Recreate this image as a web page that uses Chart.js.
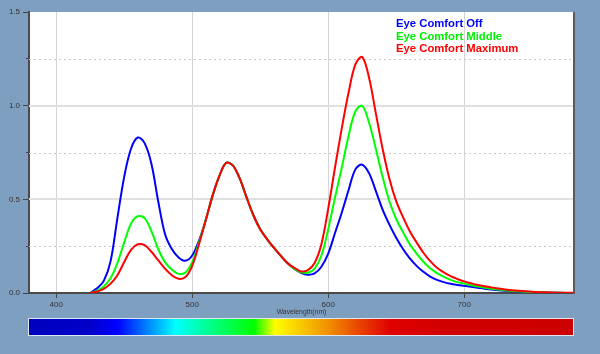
<!DOCTYPE html>
<html>
<head>
<meta charset="utf-8">
<script src="https://cdn.jsdelivr.net/npm/chart.js@4"></script>
<style>
  body { margin: 0; background: #7f9fc1; }
  #wrap { width: 600px; height: 354px; }
</style>
</head>
<body>
<div id="wrap"><canvas id="spectre" width="600" height="354"></canvas></div>
<script>
// longueurs d'onde (nm)
const wavelengths = [425, 430, 435, 440, 445, 450, 455, 460, 465, 470, 475, 480, 485, 490, 495, 500,
  505, 510, 515, 520, 525, 530, 535, 540, 545, 550, 555, 560, 565, 570, 575, 580, 585, 590, 595, 600,
  605, 610, 615, 620, 625, 630, 635, 640, 645, 650, 655, 660, 665, 670, 675, 680, 685, 690, 695, 700,
  705, 710, 715, 720, 725, 730, 740, 750, 760, 770, 780];

const comfortOff = [0, 0.025, 0.065, 0.17, 0.40, 0.62, 0.77, 0.83, 0.80, 0.69, 0.49, 0.315, 0.235, 0.19, 0.172, 0.2,
  0.28, 0.39, 0.52, 0.625, 0.695, 0.68, 0.61, 0.51, 0.415, 0.34, 0.288, 0.242, 0.20, 0.16, 0.13, 0.108, 0.098, 0.105, 0.14, 0.21,
  0.32, 0.43, 0.55, 0.66, 0.685, 0.64, 0.545, 0.445, 0.365, 0.295, 0.235, 0.185, 0.145, 0.113, 0.088, 0.07, 0.058, 0.049, 0.043, 0.038,
  0.033, 0.028, 0.023, 0.019, 0.015, 0.012, 0.008, 0.004, 0.002, 0.001, 0];

const comfortMiddle = [0, 0.012, 0.035, 0.08, 0.16, 0.27, 0.37, 0.41, 0.40, 0.33, 0.235, 0.165, 0.125, 0.102, 0.11, 0.165,
  0.27, 0.39, 0.52, 0.625, 0.695, 0.68, 0.61, 0.51, 0.415, 0.34, 0.288, 0.242, 0.20, 0.16, 0.13, 0.11, 0.108, 0.13, 0.20, 0.34,
  0.51, 0.67, 0.84, 0.97, 1.0, 0.91, 0.77, 0.62, 0.49, 0.395, 0.325, 0.26, 0.21, 0.167, 0.132, 0.106, 0.086, 0.07, 0.058, 0.05,
  0.041, 0.034, 0.028, 0.023, 0.019, 0.015, 0.009, 0.005, 0.003, 0.001, 0];

const comfortMax = [0, 0.008, 0.022, 0.05, 0.095, 0.165, 0.23, 0.26, 0.255, 0.22, 0.175, 0.13, 0.095, 0.076, 0.085, 0.145,
  0.26, 0.39, 0.52, 0.625, 0.695, 0.68, 0.61, 0.51, 0.415, 0.34, 0.288, 0.242, 0.20, 0.16, 0.135, 0.115, 0.122, 0.16, 0.26, 0.45,
  0.67, 0.88, 1.07, 1.22, 1.26, 1.15, 0.96, 0.77, 0.61, 0.49, 0.405, 0.33, 0.27, 0.215, 0.17, 0.135, 0.11, 0.09, 0.075, 0.062,
  0.052, 0.043, 0.036, 0.03, 0.024, 0.019, 0.012, 0.007, 0.004, 0.002, 0.001];

const seriesNames = ['Eye Comfort Off', 'Eye Comfort Middle', 'Eye Comfort Maximum'];
const seriesColors = ['#0000ff', '#00ff00', '#ff0000'];
const legendColors = ['#0000ff', '#00ee00', '#ff0000'];

const xTicks = [400, 500, 600, 700];
const yTicks = [0, 0.25, 0.5, 0.75, 1.0, 1.25, 1.5];
const xTitle = 'Wavelength(nm)';

// barre de couleurs du spectre sous le graphique
const barStops = [[0, '#0000c0'], [0.11, '#0000c8'], [0.162, '#0000ff'], [0.27, '#00ffff'], [0.33, '#00ff90'],
  [0.414, '#00ff00'], [0.452, '#ffff00'], [0.55, '#f09000'], [0.61, '#e84000'], [0.665, '#e00000'],
  [0.77, '#d00000'], [1, '#cc0000']];

const toPoints = arr => arr.map((v, i) => ({ x: wavelengths[i], y: v }));
const allSeries = [comfortOff, comfortMiddle, comfortMax];
const isHalf = v => Math.abs(v * 2 - Math.round(v * 2)) < 1e-6;

const decor = {
  id: 'decor',
  beforeDraw(chart) {
    const c = chart.ctx, a = chart.chartArea;
    c.save();
    c.fillStyle = '#7f9fc1';
    c.fillRect(0, 0, chart.width, chart.height);
    c.fillStyle = '#ffffff';
    c.fillRect(a.left, a.top, a.right - a.left, a.bottom - a.top);
    c.restore();
  },
  beforeDatasetsDraw(chart) {
    const c = chart.ctx, a = chart.chartArea, y = chart.scales.y;
    c.save();
    yTicks.forEach(v => {
      if (v <= 0 || v >= 1.5) return;
      const py = Math.round(y.getPixelForValue(v));
      c.beginPath();
      if (isHalf(v)) {
        c.strokeStyle = '#e0e0e0'; c.lineWidth = 2; c.setLineDash([]);
        c.moveTo(a.left, py); c.lineTo(a.right, py);
      } else {
        c.strokeStyle = '#c8c8c8'; c.lineWidth = 1; c.setLineDash([2, 3]);
        c.moveTo(a.left, py + 0.5); c.lineTo(a.right, py + 0.5);
      }
      c.stroke();
    });
    c.restore();
  },
  afterDraw(chart) {
    const c = chart.ctx, a = chart.chartArea;
    c.save();
    // cadre droit
    c.fillStyle = '#5a5a5a';
    c.fillRect(a.right, a.top, 2, a.bottom - a.top + 1);
    // legende
    c.font = 'bold 11.3px "Liberation Sans", Arial, sans-serif';
    c.textBaseline = 'middle';
    c.textAlign = 'left';
    seriesNames.forEach((n, i) => {
      c.fillStyle = legendColors[i];
      c.fillText(n, 396, 24 + i * 12.6);
    });
    // titre axe x
    c.font = '6.8px "Liberation Sans", Arial, sans-serif';
    c.fillStyle = '#333';
    c.textAlign = 'center';
    c.fillText(xTitle, (a.left + a.right) / 2 + 0.5, 312.5);
    // barre spectre
    const g = c.createLinearGradient(a.left, 0, a.right, 0);
    barStops.forEach(s => g.addColorStop(s[0], s[1]));
    c.fillStyle = g;
    c.fillRect(a.left, 319, a.right - a.left, 16);
    c.strokeStyle = '#dfe7f0';
    c.lineWidth = 1;
    c.strokeRect(a.left - 0.5, 318.5, a.right - a.left + 1, 17);
    c.restore();
  }
};

const ctx = document.getElementById('spectre').getContext('2d');
const spectreChart = new Chart(ctx, {
  type: 'line',
  data: {
    datasets: allSeries.map((s, i) => ({
      label: seriesNames[i],
      data: toPoints(s),
      borderColor: seriesColors[i],
      borderWidth: 2,
      pointRadius: 0,
      fill: false,
      tension: 0.35,
      order: 2 - i
    }))
  },
  options: {
    responsive: false,
    animation: false,
    layout: { padding: { left: 0, top: 12, right: 27, bottom: 0 } },
    plugins: { legend: { display: false }, tooltip: { enabled: false } },
    scales: {
      x: {
        type: 'linear',
        min: 380,
        max: 780,
        afterFit: s => { s.height = 61; },
        afterBuildTicks: s => { s.ticks = xTicks.map(v => ({ value: v })); },
        grid: { color: '#d4d4d4', lineWidth: 1, tickLength: 5, tickColor: '#444' },
        border: { color: '#4a4a4a', width: 2 },
        ticks: { padding: 2, color: '#333', font: { family: '"Liberation Sans", Arial', size: 8 }, maxRotation: 0 }
      },
      y: {
        min: 0,
        max: 1.5,
        afterFit: s => { s.width = 29; },
        afterBuildTicks: s => { s.ticks = yTicks.map(v => ({ value: v })); },
        grid: {
          drawOnChartArea: false,
          tickLength: 6,
          tickColor: '#444',
          tickBorderDash: c => (isHalf(c.tick.value) ? [] : [0, 3, 3, 0])
        },
        border: { color: '#4a4a4a', width: 2 },
        ticks: {
          padding: 3,
          color: '#333',
          font: { family: '"Liberation Sans", Arial', size: 8 },
          callback: v => (isHalf(v) ? v.toFixed(1) : '')
        }
      }
    }
  },
  plugins: [decor]
});
</script>
</body>
</html>
